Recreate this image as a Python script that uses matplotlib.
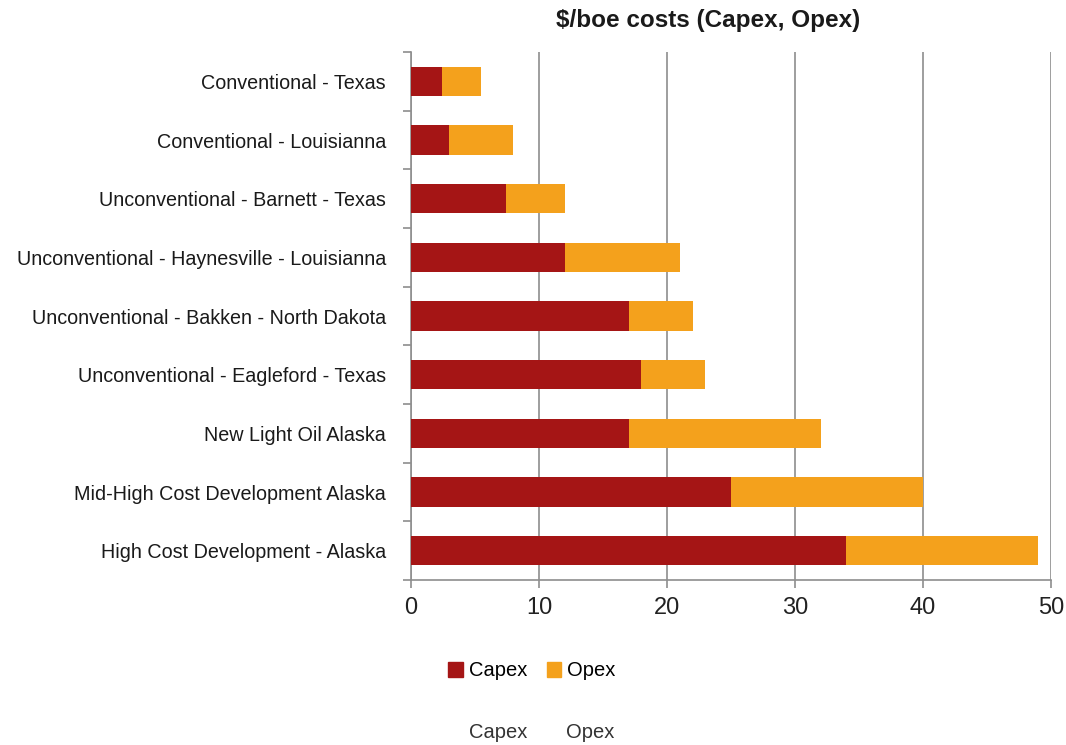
import numpy as np
import matplotlib.pyplot as plt
from matplotlib.patches import Patch

# Data
categories = [
    'Conventional - Texas',
    'Conventional - Louisianna',
    'Unconventional - Barnett - Texas',
    'Unconventional - Haynesville - Louisianna',
    'Unconventional - Bakken - North Dakota',
    'Unconventional - Eagleford - Texas',
    'New Light Oil Alaska',
    'Mid-High Cost Development Alaska',
    'High Cost Development - Alaska',
]
capex = [2.4, 3, 7.4, 12, 17, 18, 17, 25, 34]
opex = [3.1, 5, 4.6, 9, 5, 5, 15, 15, 15]
x_ticks = [0, 10, 20, 30, 40, 50]

plt.rcParams['font.family'] = ['Liberation Sans', 'DejaVu Sans']

capex_color = '#A51515'
opex_color = '#F4A11C'
grid_color = '#8E8E8E'

fig = plt.figure(figsize=(10.66, 7.45), dpi=100)
ax = fig.add_axes([411 / 1066, 1 - 580 / 745, 640 / 1066, 528 / 745])

y = np.arange(len(categories))
ax.barh(y, capex, height=0.5, color=capex_color, label='Capex', zorder=3)
ax.barh(y, opex, left=capex, height=0.5, color=opex_color, label='Opex', zorder=3)

ax.set_xlim(0, 50)
ax.set_ylim(len(categories) - 0.5, -0.5)
ax.set_xticks(x_ticks)
ax.set_xticklabels([str(t) for t in x_ticks], fontsize=17, color='#222222')

# category labels centred on bars, tick marks at category boundaries
ax.set_yticks(y)
ax.set_yticklabels(categories, fontsize=14.2, color='#1a1a1a')
ax.tick_params(axis='y', length=0, pad=18)
ax.set_yticks(np.arange(-0.5, len(categories), 1), minor=True)
ax.tick_params(axis='y', which='minor', length=6, color=grid_color, width=1.2)
ax.tick_params(axis='x', length=6, color=grid_color, width=1.2, pad=6)

ax.grid(axis='x', color=grid_color, linewidth=1.2, zorder=0)
for side in ['top', 'right']:
    ax.spines[side].set_visible(False)
for side in ['left', 'bottom']:
    ax.spines[side].set_color(grid_color)
    ax.spines[side].set_linewidth(1.2)

fig.text(708 / 1066, 1 - 20 / 745, '$/boe costs (Capex, Opex)', ha='center', va='center',
         fontsize=17.5, fontweight='bold', color='#1a1a1a')

handles = [Patch(color=capex_color), Patch(color=opex_color)]
fig.legend(handles, ['Capex', 'Opex'], loc='center', bbox_to_anchor=(532 / 1066, 1 - 671 / 745),
           ncol=2, frameon=False, fontsize=14.5, handlelength=0.7, handleheight=0.7,
           handletextpad=0.3, columnspacing=1.0)

fig.text(498 / 1066, 1 - 733 / 745, 'Capex', ha='center', va='center', fontsize=14.5, color='#333333')
fig.text(590 / 1066, 1 - 733 / 745, 'Opex', ha='center', va='center', fontsize=14.5, color='#333333')

fig.savefig('out.png', dpi=100)
